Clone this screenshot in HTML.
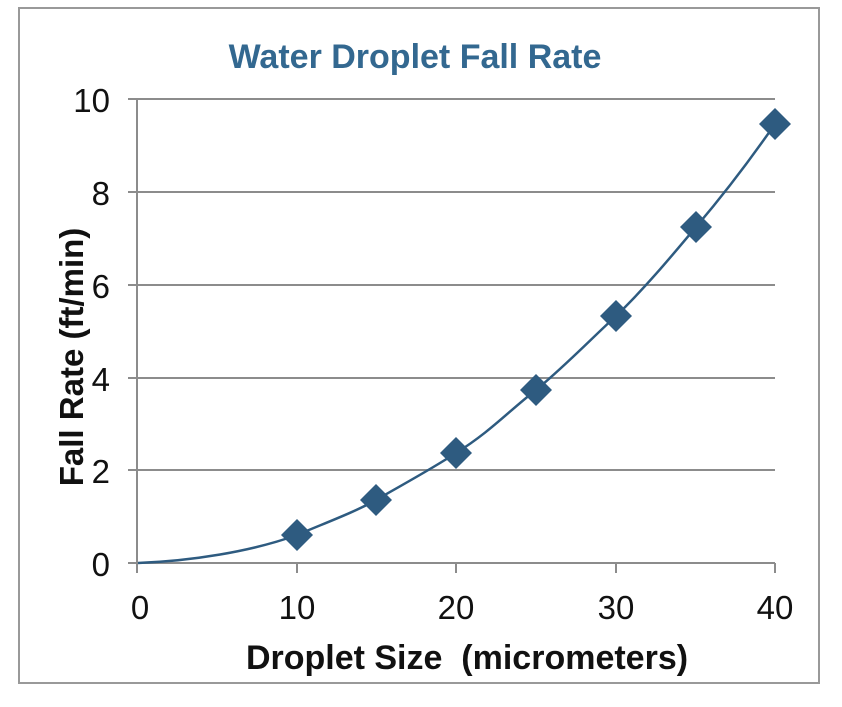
<!DOCTYPE html>
<html><head><meta charset="utf-8"><style>
html,body{margin:0;padding:0;background:#fff;}
</style></head><body>
<svg width="842" height="702" xmlns="http://www.w3.org/2000/svg" font-family="Liberation Sans, sans-serif">
<rect x="19" y="8" width="800" height="675" fill="#fff" stroke="#999" stroke-width="2"/>
<text x="415" y="68" text-anchor="middle" font-size="34" font-weight="bold" fill="#336890">Water Droplet Fall Rate</text>
<g stroke="#8c8c8c" stroke-width="2">
<line x1="128" y1="99" x2="775" y2="99"/>
<line x1="128" y1="192" x2="775" y2="192"/>
<line x1="128" y1="285" x2="775" y2="285"/>
<line x1="128" y1="378" x2="775" y2="378"/>
<line x1="128" y1="470" x2="775" y2="470"/>
<line x1="128" y1="563" x2="775" y2="563"/>
<line x1="137" y1="99" x2="137" y2="563"/>
<line x1="137" y1="563" x2="137" y2="573"/>
<line x1="297" y1="563" x2="297" y2="573"/>
<line x1="456" y1="563" x2="456" y2="573"/>
<line x1="616" y1="563" x2="616" y2="573"/>
<line x1="775" y1="563" x2="775" y2="573"/>
</g>
<g font-size="33" fill="#111" text-anchor="end">
<text x="110" y="112">10</text>
<text x="110" y="205">8</text>
<text x="110" y="298">6</text>
<text x="110" y="391">4</text>
<text x="110" y="483">2</text>
<text x="110" y="576">0</text>
</g>
<g font-size="33" fill="#111" text-anchor="middle">
<text x="140" y="619">0</text>
<text x="297" y="619">10</text>
<text x="456" y="619">20</text>
<text x="616" y="619">30</text>
<text x="775" y="619">40</text>
</g>
<text x="467" y="669" text-anchor="middle" font-size="34" font-weight="bold" fill="#111" xml:space="preserve">Droplet Size  (micrometers)</text>
<text transform="translate(83,357) rotate(-90)" text-anchor="middle" font-size="33" font-weight="bold" fill="#111">Fall Rate (ft/min)</text>
<path d="M138,563 C190,561 250,552 297,535 C325,523 355,512 376,500 C400,486 430,470 456,453 C490,432 510,410 536,390 C565,366 590,340 616,316 C645,288 670,258 696,227 C725,193 750,160 775,124" fill="none" stroke="#2e5b80" stroke-width="2.5"/>
<g fill="#2e5b80">
<path d="M297,519 l16,16 l-16,16 l-16,-16z"/>
<path d="M376,484 l16,16 l-16,16 l-16,-16z"/>
<path d="M456,437 l16,16 l-16,16 l-16,-16z"/>
<path d="M536,374 l16,16 l-16,16 l-16,-16z"/>
<path d="M616,300 l16,16 l-16,16 l-16,-16z"/>
<path d="M696,211 l16,16 l-16,16 l-16,-16z"/>
<path d="M775,108 l16,16 l-16,16 l-16,-16z"/>
</g>
</svg>
</body></html>
